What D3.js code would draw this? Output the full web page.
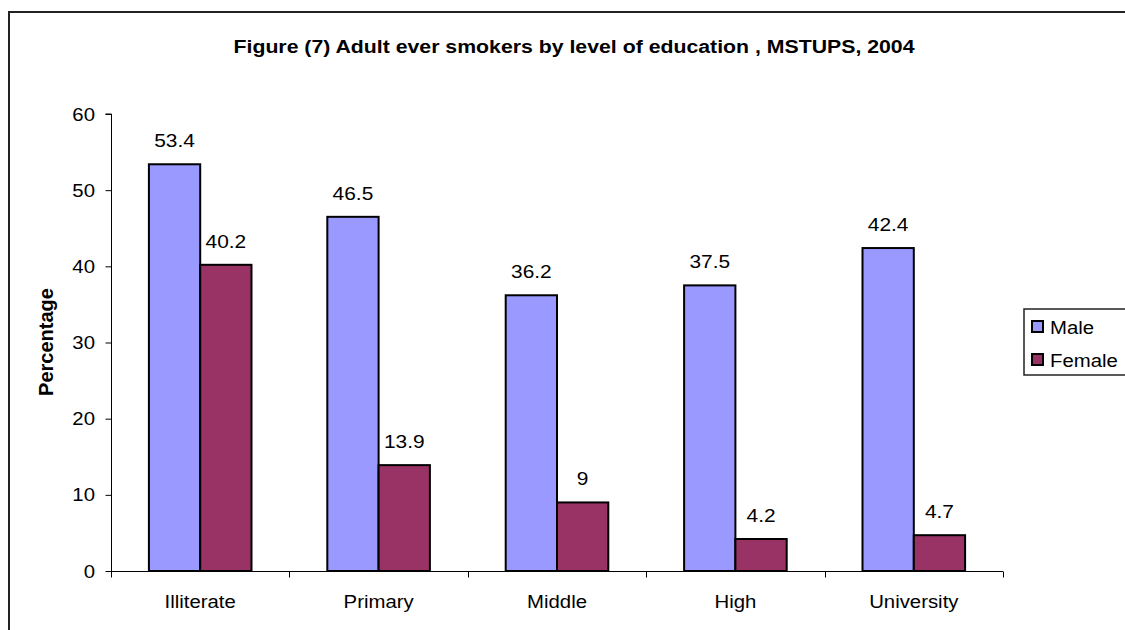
<!DOCTYPE html>
<html><head><meta charset="utf-8">
<script src="https://cdn.jsdelivr.net/npm/d3@7"></script>
<style>body{margin:0;background:#fff}svg{display:block}text{font-family:"Liberation Sans",Arial,sans-serif}</style>
</head><body>
<svg id="c" width="1125" height="630"></svg>
<script>
const categories = ["Illiterate","Primary","Middle","High","University"];
const seriesNames = ["Male","Female"];
const maleValues = [53.4,46.5,36.2,37.5,42.4];
const femaleValues = [40.2,13.9,9,4.2,4.7];
const yTicks = [0,10,20,30,40,50,60];
const titleText = "Figure (7) Adult ever smokers by level of education , MSTUPS, 2004";
const yTitle = "Percentage";

const colors = {Male:"#9999FF", Female:"#993366"};
const SX = 1.1;
const svg = d3.select("#c");

// outer frame
svg.append("rect").attr("x",9).attr("y",12).attr("width",1140).attr("height",640)
  .attr("fill","none").attr("stroke","#222").attr("stroke-width",2);

const L=111, R=1003, T=114, B=571;
const x0 = d3.scaleBand().domain(categories).range([L,R]).padding(0);
const x1 = d3.scaleBand().domain(seriesNames).range([0,x0.bandwidth()]).paddingInner(0).paddingOuter(0.739);
const y = d3.scaleLinear().domain([0,60]).range([B,T]);

function txt(g, x, yy, s, opts={}) {
  const t = g.append("text").attr("transform",`translate(${x},${yy}) scale(${opts.sx||SX},1)`)
    .attr("text-anchor",opts.anchor||"middle").attr("font-size",opts.size||19)
    .attr("font-weight",opts.weight||"normal").attr("fill","#000").text(s);
  return t;
}

// title
txt(svg, 574, 53, titleText, {size:19, weight:"bold", sx:1.12});

// bars
const data = categories.map((c,i)=>({cat:c, vals:[{k:"Male",v:maleValues[i]},{k:"Female",v:femaleValues[i]}]}));
const g = svg.append("g");
data.forEach(d=>{
  d.vals.forEach(s=>{
    const bx = x0(d.cat)+x1(s.k);
    g.append("rect").attr("x",bx).attr("y",y(s.v)).attr("width",x1.bandwidth()).attr("height",B-y(s.v))
      .attr("fill",colors[s.k]).attr("stroke","#000").attr("stroke-width",2);
    txt(g, bx+x1.bandwidth()/2, y(s.v)-17, String(s.v), {size:19});
  });
});

// y axis
const ya = svg.append("g").attr("transform",`translate(${L+0.5},0)`)
  .call(d3.axisLeft(y).tickValues(yTicks).tickSize(6).tickFormat(""));
ya.selectAll("path,line").attr("stroke","#000").attr("stroke-width",1);
ya.select(".domain").attr("d",`M-6,${T}H0V${B+5}`);
yTicks.forEach(v=>txt(svg, 95, y(v)+6.5, String(v), {anchor:"end", size:18.5}));

// x axis
const xa = svg.append("g").attr("transform",`translate(0,${B+0.5})`);
xa.append("line").attr("x1",L).attr("x2",R).attr("y1",0).attr("y2",0).attr("stroke","#000");
const bounds = categories.map(c=>x0(c)).concat([R]);
bounds.forEach(bx=>xa.append("line").attr("x1",Math.round(bx)+0.5).attr("x2",Math.round(bx)+0.5).attr("y1",0).attr("y2",6).attr("stroke","#000"));
categories.forEach(c=>txt(svg, x0(c)+x0.bandwidth()/2, 608, c, {size:18.5}));

// y title
svg.append("text").attr("transform","translate(53,342) rotate(-90)").attr("text-anchor","middle")
  .attr("font-size",20).attr("font-weight","bold").text(yTitle);

// legend
const lg = svg.append("g");
lg.append("rect").attr("x",1024).attr("y",309).attr("width",120).attr("height",66)
  .attr("fill","#fff").attr("stroke","#222").attr("stroke-width",1.5);
seriesNames.forEach((s,i)=>{
  const yy = 321 + i*33;
  lg.append("rect").attr("x",1032).attr("y",yy).attr("width",11).attr("height",11)
    .attr("fill",colors[s]).attr("stroke","#000").attr("stroke-width",2);
  txt(lg, 1050, yy+12.5, s, {anchor:"start", size:18.5});
});
</script>
</body></html>
